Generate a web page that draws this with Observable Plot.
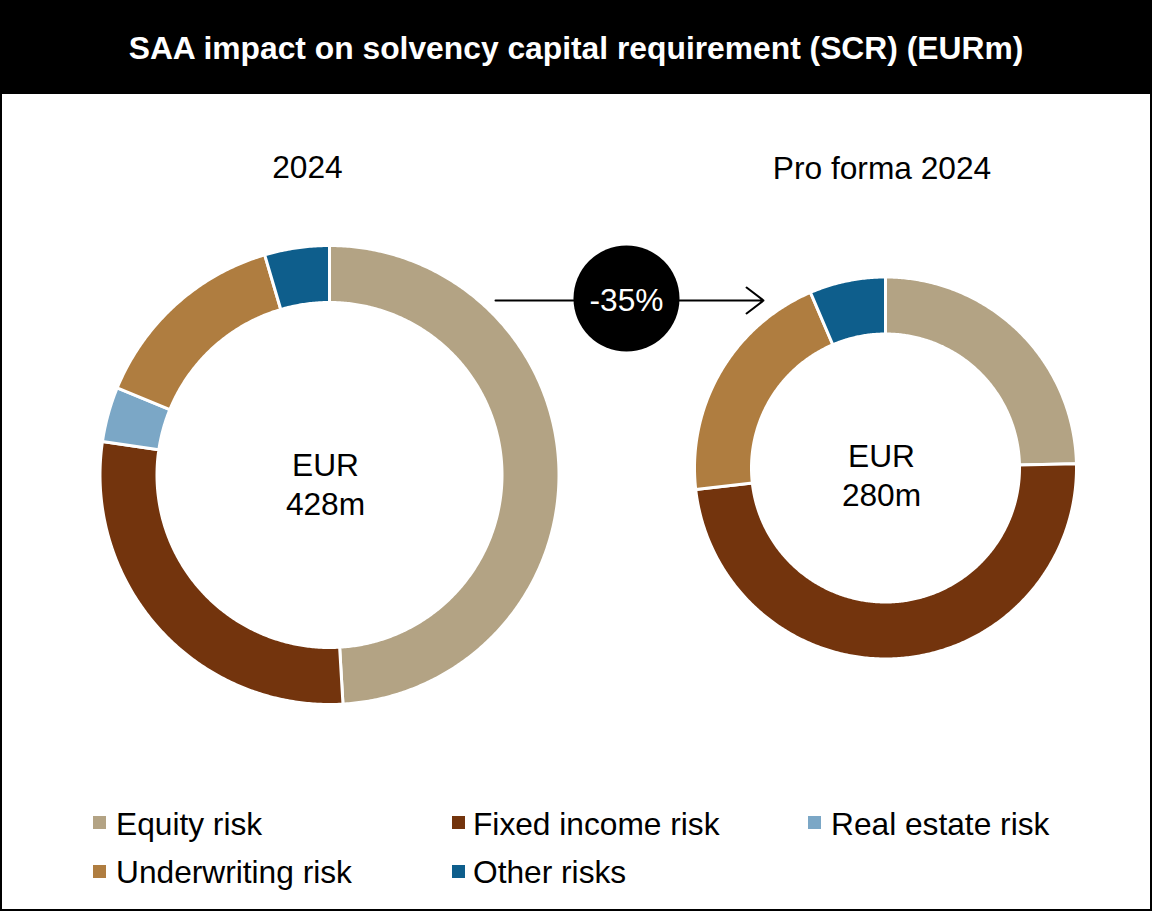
<!DOCTYPE html>
<html><head><meta charset="utf-8">
<script src="https://cdn.jsdelivr.net/npm/d3@7"></script>
<script src="https://cdn.jsdelivr.net/npm/@observablehq/plot@0.6"></script>
<style>
html,body{margin:0;padding:0;background:#fff;}
#frame{position:relative;width:1152px;height:911px;box-sizing:border-box;border:2px solid #000;overflow:hidden;font-family:Arial,"Liberation Sans",sans-serif;background:#fff;}
#header{height:92px;background:#000;color:#fff;font-weight:bold;font-size:31.8px;display:flex;align-items:center;justify-content:center;white-space:nowrap;}
#chart svg{display:block}
.lg-text{position:absolute;font-size:31.7px;line-height:36px;color:#000;white-space:nowrap}
.lg-sw{position:absolute;width:13px;height:13px;}
</style></head><body>
<div id="frame"><div id="header"></div><div id="chart"></div><div id="legend"></div></div>
<script>
// ---- data ----
const title = "SAA impact on solvency capital requirement (SCR) (EURm)";
const categories = ["Equity risk", "Fixed income risk", "Real estate risk", "Underwriting risk", "Other risks"];
const colors = ["#B3A384", "#73340D", "#7BA7C6", "#AF7D40", "#0E5E8C"];
const values2024 = [210, 121, 16.5, 61, 19.5];        // EURm, total 428
const valuesProForma = [69, 136, 0, 57, 18];          // EURm, total 280
const panelTitles = ["2024", "Pro forma 2024"];
const totalLabels = ["EUR\n428m", "EUR\n280m"];
const changeLabel = "-35%";
const legendOrder = ["Equity risk", "Fixed income risk", "Real estate risk", "Underwriting risk", "Other risks"];

// ---- layout (page pixel coordinates) ----
const layout = {
  donuts: [
    {cx: 329, cy: 474.5, R: 228, r: 174},
    {cx: 885, cy: 467.5, R: 189.5, r: 135.5}
  ],
  titles: [{x: 307, y: 177}, {x: 881.5, y: 178}],
  centers: [{x: 325, y: 514}, {x: 881, y: 505}],
  arrow: {x1: 495, x2: 763, y: 300},
  badge: {x: 626, y: 298, r: 53},
  legend: [
    {sx: 93, tx: 116, top: 816, base: 835},
    {sx: 452, tx: 473, top: 816, base: 835},
    {sx: 808, tx: 831, top: 816, base: 835},
    {sx: 93, tx: 116, top: 865, base: 883},
    {sx: 452, tx: 473, top: 865, base: 883}
  ]
};

document.getElementById("header").textContent = title;

const series = [values2024, valuesProForma];
const pts = [];
layout.donuts.forEach((L, i) => {
  const rows = categories.map((c, j) => ({category: c, value: series[i][j]})).filter(d => d.value > 0);
  const arcs = d3.pie().sort(null).value(d => d.value)(rows);
  const R = L.R + 1.5, r = L.r - 1.5;
  arcs.forEach(a => {
    const key = i + "-" + a.data.category;
    const n = Math.max(2, Math.ceil((a.endAngle - a.startAngle) / (Math.PI / 360)));
    const ring = [];
    for (let k = 0; k <= n; k++) {
      const t = a.startAngle + (a.endAngle - a.startAngle) * k / n;
      ring.push([L.cx + R * Math.sin(t), L.cy - R * Math.cos(t)]);
    }
    for (let k = n; k >= 0; k--) {
      const t = a.startAngle + (a.endAngle - a.startAngle) * k / n;
      ring.push([L.cx + r * Math.sin(t), L.cy - r * Math.cos(t)]);
    }
    ring.push(ring[0]);
    ring.forEach(([x, y]) => pts.push({key, category: a.data.category, x, y}));
  });
});

const font = "Arial, 'Liberation Sans', sans-serif";
const fs = 31.7;
const plot = Plot.plot({
  width: 1148, height: 700, margin: 0,
  x: {domain: [2, 1150], range: [0, 1148], axis: null},
  y: {domain: [94, 794], range: [0, 700], axis: null},
  color: {domain: categories, range: colors},
  style: {fontFamily: font, background: "white"},
  marks: [
    Plot.line(pts, {x: "x", y: "y", z: "key", fill: "category", stroke: "white", strokeWidth: 3, curve: "linear"}),
    Plot.text(panelTitles, {x: (d, i) => layout.titles[i].x, y: (d, i) => layout.titles[i].y, text: d => d, lineAnchor: "bottom", fontSize: fs, fill: "black"}),
    Plot.text(totalLabels, {x: (d, i) => layout.centers[i].x, y: (d, i) => layout.centers[i].y, text: d => d, lineAnchor: "bottom", lineHeight: 39 / fs, fontSize: fs, fill: "black"}),
    Plot.arrow([layout.arrow], {x1: d => d.x1, y1: d => d.y, x2: d => d.x2, y2: d => d.y, stroke: "black", strokeWidth: 2, headLength: 16, headAngle: 75}),
    Plot.dot([layout.badge], {x: d => d.x, y: d => d.y, r: layout.badge.r, fill: "black"}),
    Plot.text([changeLabel], {x: layout.badge.x, y: layout.badge.y + 2, text: d => d, lineAnchor: "middle", fontSize: fs, fill: "white"})
  ]
});
document.getElementById("chart").appendChild(plot);

// legend (HTML, below the SVG), coordinates relative to frame content box (page - 2)
const lg = document.getElementById("legend");
legendOrder.forEach((c, i) => {
  const p = layout.legend[i];
  const sw = document.createElement("div");
  sw.className = "lg-sw";
  sw.style.left = (p.sx - 2) + "px";
  sw.style.top = (p.top - 2) + "px";
  sw.style.background = colors[categories.indexOf(c)];
  lg.appendChild(sw);
  const t = document.createElement("div");
  t.className = "lg-text";
  t.textContent = c;
  t.style.left = (p.tx - 2) + "px";
  t.style.top = (p.base - 2 - 29) + "px";
  lg.appendChild(t);
});
</script>
</body></html>
